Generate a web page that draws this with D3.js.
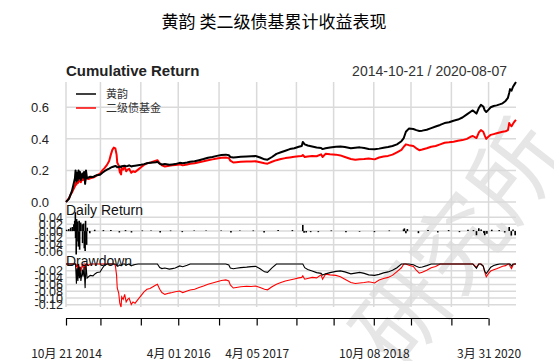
<!DOCTYPE html>
<html>
<head>
<meta charset="utf-8">
<script src="https://cdn.jsdelivr.net/npm/d3@7"></script>
<style>
  html, body { margin: 0; padding: 0; background: #fff; }
  svg { display: block; }
</style>
</head>
<body>
<svg id="chart" width="554" height="361"></svg>
<script>
// ---------------- DATA ----------------
const title = "黄韵 类二级债基累计收益表现";
const seriesNames = ["黄韵", "二级债基金"];
const dateRangeLabel = "2014-10-21 / 2020-08-07";

const dates = [
"2014-10-21","2014-10-28","2014-11-04","2014-11-11","2014-11-18","2014-11-25","2014-12-02","2014-12-05","2014-12-09","2014-12-12",
"2014-12-16","2014-12-19","2014-12-23","2014-12-26","2014-12-30","2015-01-06","2015-01-09","2015-01-14","2015-01-19","2015-01-23",
"2015-01-28","2015-02-04","2015-02-12","2015-02-25","2015-03-06","2015-03-16","2015-03-30","2015-04-10","2015-04-20","2015-05-02",
"2015-05-12","2015-05-20","2015-05-27","2015-06-03","2015-06-10","2015-06-16","2015-06-19","2015-06-26","2015-07-01","2015-07-07",
"2015-07-10","2015-07-17","2015-07-24","2015-07-31","2015-08-07","2015-08-14","2015-08-24","2015-09-01","2015-09-11","2015-09-25",
"2015-10-09","2015-10-23","2015-11-06","2015-11-20","2015-12-04","2015-12-18","2015-12-25","2016-01-05","2016-01-15","2016-01-29",
"2016-02-19","2016-03-04","2016-03-18","2016-04-08","2016-04-22","2016-05-13","2016-05-27","2016-06-17","2016-07-08","2016-07-29",
"2016-08-19","2016-09-09","2016-09-30","2016-10-21","2016-11-11","2016-11-25","2016-12-02","2016-12-16","2016-12-30","2017-01-20",
"2017-02-17","2017-03-10","2017-03-31","2017-04-21","2017-05-12","2017-05-26","2017-06-16","2017-07-07","2017-07-28","2017-08-18",
"2017-09-08","2017-09-29","2017-10-20","2017-11-03","2017-11-08","2017-11-17","2017-12-01","2017-12-22","2018-01-12","2018-02-02",
"2018-02-09","2018-02-23","2018-03-16","2018-04-13","2018-05-04","2018-05-25","2018-06-22","2018-07-13","2018-08-03","2018-08-24",
"2018-09-14","2018-10-12","2018-11-02","2018-11-23","2018-12-14","2019-01-04","2019-01-25","2019-02-15","2019-02-26","2019-03-08",
"2019-03-22","2019-04-12","2019-04-26","2019-05-10","2019-05-24","2019-06-14","2019-07-05","2019-07-26","2019-08-16","2019-09-06",
"2019-09-27","2019-10-18","2019-11-08","2019-11-29","2019-12-20","2020-01-10","2020-01-17","2020-02-03","2020-02-14","2020-02-24",
"2020-03-06","2020-03-13","2020-03-20","2020-03-31","2020-04-10","2020-04-24","2020-05-08","2020-05-22","2020-06-05","2020-06-19",
"2020-06-30","2020-07-06","2020-07-10","2020-07-17","2020-07-24","2020-07-31","2020-08-07"];

// cumulative return, 黄韵
const huangyun = [
0.000,0.010,0.020,0.045,0.070,0.110,0.150,0.200,0.130,0.185,
0.140,0.200,0.150,0.190,0.140,0.180,0.155,0.190,0.115,0.200,
0.150,0.155,0.160,0.158,0.165,0.170,0.172,0.185,0.195,0.205,
0.212,0.218,0.222,0.225,0.228,0.225,0.220,0.222,0.225,0.222,
0.226,0.228,0.230,0.226,0.228,0.232,0.225,0.228,0.230,0.233,
0.236,0.240,0.245,0.248,0.250,0.252,0.255,0.242,0.238,0.240,
0.236,0.238,0.240,0.248,0.245,0.250,0.255,0.258,0.265,0.272,
0.280,0.285,0.292,0.298,0.300,0.296,0.285,0.282,0.284,0.286,
0.288,0.290,0.291,0.282,0.270,0.268,0.285,0.305,0.315,0.325,
0.335,0.340,0.350,0.355,0.380,0.365,0.358,0.352,0.345,0.342,
0.335,0.340,0.345,0.350,0.352,0.348,0.340,0.343,0.346,0.342,
0.336,0.334,0.338,0.344,0.348,0.355,0.365,0.385,0.405,0.445,
0.465,0.462,0.455,0.450,0.452,0.458,0.468,0.478,0.488,0.500,
0.505,0.515,0.522,0.535,0.555,0.575,0.580,0.560,0.595,0.615,
0.605,0.580,0.570,0.585,0.600,0.608,0.612,0.618,0.625,0.640,
0.660,0.690,0.715,0.705,0.730,0.745,0.760];

// cumulative return, 二级债基金
const erjiZhaiji = [
0.000,0.012,0.025,0.045,0.060,0.080,0.100,0.120,0.110,0.140,
0.120,0.150,0.130,0.140,0.125,0.150,0.140,0.150,0.130,0.150,
0.150,0.145,0.150,0.155,0.160,0.170,0.180,0.200,0.215,0.235,
0.260,0.300,0.330,0.345,0.340,0.300,0.250,0.230,0.190,0.175,
0.215,0.205,0.225,0.195,0.205,0.210,0.185,0.195,0.190,0.205,
0.220,0.235,0.245,0.248,0.255,0.262,0.265,0.245,0.232,0.225,
0.230,0.232,0.235,0.238,0.232,0.238,0.242,0.245,0.252,0.258,
0.265,0.270,0.275,0.280,0.282,0.278,0.262,0.250,0.252,0.255,
0.257,0.256,0.258,0.252,0.245,0.243,0.255,0.265,0.272,0.278,
0.282,0.286,0.290,0.292,0.298,0.285,0.288,0.292,0.290,0.302,
0.285,0.305,0.302,0.300,0.295,0.285,0.272,0.268,0.270,0.272,
0.275,0.270,0.282,0.288,0.292,0.300,0.315,0.330,0.350,0.365,
0.360,0.355,0.340,0.328,0.332,0.340,0.350,0.355,0.365,0.375,
0.378,0.382,0.388,0.392,0.400,0.415,0.418,0.405,0.440,0.455,
0.445,0.420,0.400,0.415,0.425,0.430,0.435,0.440,0.445,0.448,
0.455,0.500,0.490,0.480,0.495,0.510,0.520];

// daily returns of 黄韵 (largest visible bars)
const retDates = [
"2014-10-24","2014-11-03","2014-11-12","2014-11-20","2014-11-27","2014-12-01","2014-12-04","2014-12-05","2014-12-08","2014-12-10",
"2014-12-12","2014-12-15","2014-12-18","2014-12-22","2014-12-24","2014-12-29","2015-01-05","2015-01-07","2015-01-12","2015-01-15",
"2015-01-19","2015-01-21","2015-01-26","2015-01-29","2015-02-10","2015-03-05","2015-04-15","2015-05-20","2015-06-29","2015-07-28",
"2015-08-25","2015-10-15","2015-11-25","2016-01-07","2016-02-25","2016-04-20","2016-06-15","2016-08-10","2016-10-20","2016-12-05",
"2017-01-16","2017-03-20","2017-05-10","2017-07-15","2017-09-20","2017-11-08","2017-11-14","2017-11-24","2017-12-15","2018-01-20",
"2018-03-22","2018-05-30","2018-08-02","2018-10-11","2018-12-20","2019-02-25","2019-03-01","2019-03-08","2019-03-15","2019-05-06",
"2019-06-20","2019-08-05","2019-09-25","2019-11-15","2019-12-25","2020-01-20","2020-02-03","2020-02-14","2020-02-25","2020-03-09",
"2020-03-13","2020-03-23","2020-04-15","2020-05-20","2020-06-15","2020-07-06","2020-07-16","2020-07-24","2020-08-03"];
const retValues = [
0.004,0.006,0.010,0.012,0.020,0.030,0.055,-0.020,-0.068,0.035,
-0.030,0.028,-0.045,0.030,-0.054,0.025,0.020,-0.035,0.022,-0.050,
-0.058,0.030,-0.040,0.010,-0.006,0.004,0.003,0.003,-0.004,0.003,
-0.004,0.002,0.002,-0.004,0.002,-0.003,0.002,0.002,0.002,-0.004,
0.002,0.002,-0.004,0.003,0.003,0.018,-0.005,-0.004,-0.003,-0.003,
0.002,-0.003,-0.002,-0.003,0.002,0.005,0.008,-0.006,0.006,-0.006,
0.003,-0.004,0.003,-0.003,0.004,0.003,-0.012,0.008,0.005,-0.006,
-0.012,-0.008,0.004,0.003,-0.004,0.012,-0.013,0.005,-0.012];

const xTickDates = ["2014-10-21","2015-04-01","2015-10-08","2016-04-01","2016-10-10","2017-04-05",
                    "2017-10-09","2018-04-02","2018-10-08","2019-04-01","2019-10-08","2020-03-31"];
const xTickLabels = ["10月 21 2014","","","4月 01 2016","","4月 05 2017","","","10月 08 2018","","","3月 31 2020"];

const cumTicks = [0.0, 0.2, 0.4, 0.6];
const retTicks = [0.04, 0.02, 0.00, -0.02, -0.04, -0.06];
const ddTicks = [0.00, -0.02, -0.04, -0.06, -0.08, -0.10, -0.12];
const ddTickLabels = ["", "-0.02", "-0.04", "-0.06", "-0.08", "-0.10", "-0.12"];

// ---------------- DRAW ----------------
const parse = d3.timeParse("%Y-%m-%d");
const D = dates.map(parse);
const svg = d3.select("#chart");

const left = 66, right = 516;
const x = d3.scaleTime().domain([D[0], D[D.length - 1]]).range([left, right]);

// derived drawdowns
function drawdown(cum) {
  let peak = 1;
  return cum.map(c => { const w = 1 + c; peak = Math.max(peak, w); return w / peak - 1; });
}
const ddH = drawdown(huangyun), ddE = drawdown(erjiZhaiji);

const y1 = d3.scaleLinear().domain([Math.min(0, d3.min(huangyun), d3.min(erjiZhaiji)),
                                    Math.max(d3.max(huangyun), d3.max(erjiZhaiji))]).range([202, 82]);
const y2 = d3.scaleLinear().domain([d3.min(retValues), d3.max(retValues)]).range([254.5, 212.2]);
const y3 = d3.scaleLinear().domain([Math.min(d3.min(ddH), d3.min(ddE)), 0]).range([307, 264]);

const gridColor = "#dadada";

// watermark (light, as in the reference image)
svg.append("text")
  .attr("transform", "translate(400,372) rotate(-52)")
  .attr("font-family", "Noto Sans CJK SC")
  .attr("font-size", 92)
  .attr("fill", "#e6e6e6")
  .text("研究所");

// vertical grid
svg.append("g").selectAll("line").data(xTickDates.map(parse)).join("line")
  .attr("x1", d => x(d)).attr("x2", d => x(d))
  .attr("y1", 82).attr("y2", 307)
  .attr("stroke", gridColor).attr("stroke-width", 1.5);

// horizontal grids
function hgrid(ticks, ys) {
  svg.append("g").selectAll("line").data(ticks).join("line")
    .attr("x1", left).attr("x2", right)
    .attr("y1", d => ys(d)).attr("y2", d => ys(d))
    .attr("stroke", gridColor).attr("stroke-width", 1.5);
}
hgrid(cumTicks, y1);
hgrid(retTicks, y2);
hgrid(ddTicks, y3);

// y tick labels
function ylabels(ticks, labels, ys, xr, size) {
  svg.append("g").selectAll("text").data(ticks).join("text")
    .attr("x", xr).attr("y", d => ys(d)).attr("dy", "0.36em")
    .attr("text-anchor", "end")
    .attr("font-family", "Liberation Sans, Arial, sans-serif")
    .attr("font-size", size).attr("fill", "#222")
    .text((d, i) => labels ? labels[i] : d3.format(".1f")(d));
}
ylabels(cumTicks, null, y1, 49, 13);
ylabels(retTicks, retTicks.map(d3.format(".2f")).map(s => s.replace("−", "-")), y2, 63, 12.5);
ylabels(ddTicks, ddTickLabels, y3, 63, 12.5);

// lines
const line1 = (vals) => d3.line().x((d, i) => x(D[i])).y(d => y1(d))(vals);
svg.append("path").attr("d", line1(erjiZhaiji)).attr("fill", "none")
  .attr("stroke", "#ff0000").attr("stroke-width", 2).attr("stroke-linejoin", "round");
svg.append("path").attr("d", line1(huangyun)).attr("fill", "none")
  .attr("stroke", "#000").attr("stroke-width", 2).attr("stroke-linejoin", "round");

// daily return bars
svg.append("g").selectAll("line").data(retValues).join("line")
  .attr("x1", (d, i) => x(parse(retDates[i]))).attr("x2", (d, i) => x(parse(retDates[i])))
  .attr("y1", y2(0)).attr("y2", d => y2(d))
  .attr("stroke", "#000").attr("stroke-width", 1.6);

// drawdown lines
const line3 = (vals) => d3.line().x((d, i) => x(D[i])).y(d => y3(d))(vals);
svg.append("path").attr("d", line3(ddE)).attr("fill", "none")
  .attr("stroke", "#ff0000").attr("stroke-width", 1.1);
svg.append("path").attr("d", line3(ddH)).attr("fill", "none")
  .attr("stroke", "#000").attr("stroke-width", 1.1);

// titles
svg.append("text").attr("x", 274).attr("y", 28).attr("text-anchor", "middle")
  .attr("font-family", "Noto Sans CJK SC").attr("font-size", 17).attr("fill", "#000")
  .text(title);
svg.append("text").attr("x", 66).attr("y", 76)
  .attr("font-family", "Liberation Sans, Arial, sans-serif").attr("font-size", 15)
  .attr("font-weight", "bold").attr("fill", "#222").text("Cumulative Return");
svg.append("text").attr("x", 507).attr("y", 76).attr("text-anchor", "end")
  .attr("font-family", "Liberation Sans, Arial, sans-serif").attr("font-size", 14)
  .attr("fill", "#333").text(dateRangeLabel);
svg.append("text").attr("x", 66).attr("y", 215)
  .attr("font-family", "Liberation Sans, Arial, sans-serif").attr("font-size", 14)
  .attr("fill", "#111").text("Daily Return");
svg.append("text").attr("x", 66).attr("y", 266)
  .attr("font-family", "Liberation Sans, Arial, sans-serif").attr("font-size", 14)
  .attr("fill", "#111").text("Drawdown");

// legend
const legColors = ["#000", "#ff0000"];
const leg = svg.append("g");
seriesNames.forEach((n, i) => {
  const yy = 94 + i * 14;
  leg.append("line").attr("x1", 76).attr("x2", 96).attr("y1", yy).attr("y2", yy)
    .attr("stroke", legColors[i]).attr("stroke-width", 1.5);
  leg.append("text").attr("x", 106).attr("y", yy).attr("dy", "0.36em")
    .attr("font-family", "Noto Sans CJK SC").attr("font-size", 11).attr("fill", "#333").text(n);
});

// bottom axis
const tickD = xTickDates.map(parse);
const axis = d3.axisBottom(x).tickValues(tickD)
  .tickFormat((d, i) => xTickLabels[i]).tickSize(7).tickPadding(24);
const ax = svg.append("g").attr("transform", "translate(0,318.5)").call(axis);
ax.select(".domain").remove();
ax.append("line").attr("x1", x(tickD[0])).attr("x2", x(tickD[tickD.length - 1]))
  .attr("y1", 0).attr("y2", 0).attr("stroke", "#000").attr("stroke-width", 1.2);
ax.selectAll(".tick line").attr("stroke", "#000").attr("stroke-width", 1.2);
ax.selectAll(".tick text").attr("font-family", "Noto Sans CJK SC, Noto Sans")
  .attr("font-size", 12).attr("fill", "#222");
</script>
</body>
</html>
